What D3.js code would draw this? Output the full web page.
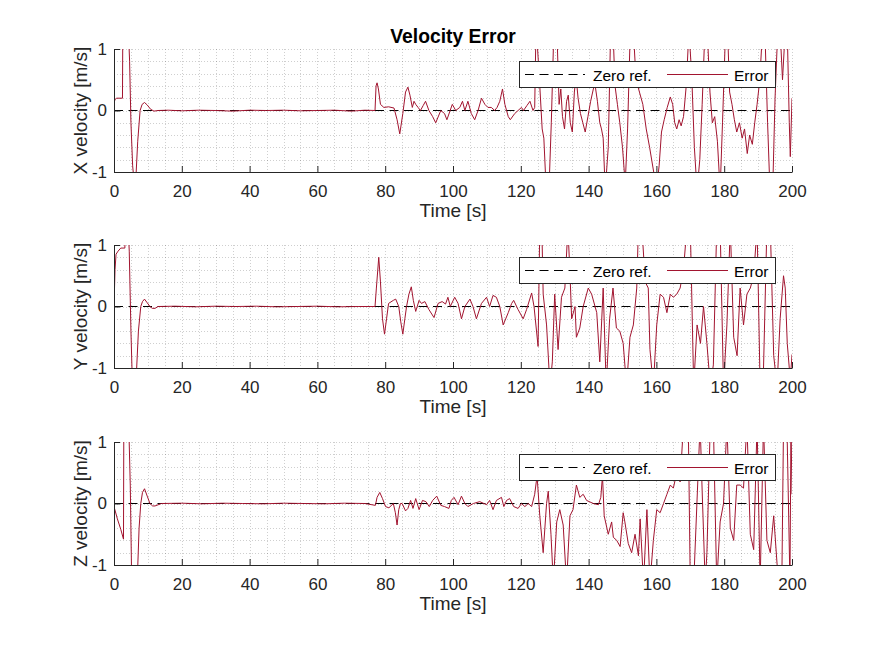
<!DOCTYPE html>
<html>
<head>
<meta charset="utf-8">
<script src="https://cdn.jsdelivr.net/npm/d3@7"></script>
<style>
   body { margin: 0; background: #ffffff; }
   text { font-family: 'Liberation Sans', Arial, Helvetica, sans-serif; fill: #262626; }
   .grid line { stroke: #262626; stroke-opacity: 0.22; stroke-dasharray: 1,2; shape-rendering: crispEdges; }
   .axis path, .axis line { stroke: #262626; }
</style>
</head>
<body>
<script>
   // chart data
   let xTicks = [0, 20, 40, 60, 80, 100, 120, 140, 160, 180, 200];
   let yTicks = [-1, 0, 1];
   let seriesNames = ['Zero ref.', 'Error'];
   let yLabels = ['X velocity [m/s]', 'Y velocity [m/s]', 'Z velocity [m/s]'];

   // X velocity error
   let timeX = [0, 0.3, 0.8, 2.5, 2.6, 3.0, 3.6, 4.2, 4.6, 5.0, 5.5, 6.0, 6.5, 7.0, 7.7, 8.3, 9.0, 9.8, 10.8, 11.8, 13,
      16, 20, 25, 30, 35, 40, 45, 50, 55, 60, 65, 70, 74, 77.0, 77.3, 77.6, 78.0, 78.6, 79.6, 81, 82.6, 83.5, 84.3,
      85.2, 86, 86.7, 87.3, 88, 88.5, 89, 89.7, 90.4, 91.2, 91.9, 92.9, 94, 94.9, 96.4, 97.5, 98.2, 99.8, 100.8,
      102, 102.8, 103.5, 104.4, 105.4, 106.4, 107.4, 108.4, 109.4, 110.3, 111.3, 112.3, 113.0, 113.8, 114.6, 115.3,
      116.3, 116.9, 118.2, 119.2, 120.2, 120.8, 121.8, 122.7, 123.6, 124.1,
      124.5, 125.4, 126.3, 126.8, 127.5, 128.3, 129.0, 129.8, 130.6, 131.3, 131.8, 132.3, 132.9, 133.5, 134, 134.6,
      135.2, 135.8, 136.3, 136.9, 137.6, 138.3, 139, 139.8, 140.6, 141.4, 141.9, 142.6, 143.3, 143.8, 144.3, 144.9,
      145.8, 146.5, 147.2, 147.8, 148.5, 149.2, 150, 150.8, 151.5, 152.3, 153.2, 154, 155, 156, 157, 158, 159.2,
      160, 160.8, 161.5, 162.3, 163.2, 164.1, 164.8, 165.4, 166, 166.7, 167.3, 168, 168.8, 169.6, 170.4, 171.2,
      172, 172.8, 173.5, 174.3, 175, 175.8, 176.5, 177.2, 178, 178.8, 179.5, 180.4, 181, 181.6, 182.3, 183, 183.7,
      184.5, 185.3, 186, 186.8, 187.5, 188.3, 189, 189.7, 190.5, 191.3, 192, 192.8, 193.5, 194.3, 195, 195.8,
      196.5, 197.2, 198, 198.6, 199.2, 199.5, 200];
   let errorX = [0.12, 0.18, 0.2, 0.2, 1.4, 1.5, 1.6, 1.4, 0.8, -0.2, -0.9, -1.2, -1.05, -0.5, 0.0, 0.1, 0.13, 0.09,
      0.02, -0.01, 0.0, 0.005, -0.005, 0.005, 0.0, -0.01, 0.005, 0.0, 0.005, -0.005, 0.0, 0.005, -0.01, 0.005, 0.0,
      0.4, 0.45, 0.35, 0.1, 0.05, 0.06, 0.04, -0.15, -0.38, -0.05, 0.3, 0.38, 0.25, 0.05, 0.15, 0.1, 0.05, 0.0, 0.08,
      0.15, 0.0, -0.1, -0.2, 0.0, -0.05, -0.15, 0.1, 0.0, 0.05, 0.15, 0.0, 0.15, -0.05, -0.15, 0.0, 0.2, 0.1, 0.05,
      0.05, 0.0, 0.05, 0.15, 0.35, 0.1, -0.1, -0.15, -0.05, 0.0, 0.05, 0.0, 0.08, 0.15, 0.0, 0.05,
      1.4, 0.6, -0.3, -0.45, -1.3, -1.3, -0.2, 1.4, 1.4, 0.1, 0.35, -0.1, -0.3, 0.15, 0.25, -0.2,
      -0.35, 0.3, 0.55, 0.2, -0.05, -0.2, -0.35, -0.1, 0.15, 0.35, 0.42, 0.15, -0.2, -0.3, -0.45, -1.3,
      -0.6, 1.3, 1.3, 0.4, 0.1, -0.2, -0.6, -1.2, -0.3, 1.3, 1.3, 0.5, 0.3, 0.1, -0.3, -0.6, -1.0,
      -1.3, -0.9, -0.35, -0.15, 0.05, 0.22, 0.1, -0.2, -0.3, -0.15, -0.25, -0.1, 0.4, 1.3, 0.6, -0.6,
      -1.3, -0.8, 0.1, 1.3, 1.3, 0.3, -0.2, -0.1, -0.5, -1.3, -0.2, 1.3, 1.3, 0.3, 0.1, -0.15, -0.35,
      -0.2, -0.45, -0.3, -0.7, -0.4, -0.55, -0.2, 0.1, 0.5, 1.3, 1.3, -0.2, -1.3, -1.3, 0.2, 1.3,
      1.3, 0.5, 1.3, 1.3, -0.2, -0.75, 0.2];

   // Y velocity error
   let timeY = [0, 0.3, 0.6, 1.2, 2.0, 3.2, 3.4, 4.0, 4.5, 5.0, 5.4, 6.0, 6.6, 7.2, 7.9, 8.4, 9.0, 9.8, 10.6, 11.3,
      12.1, 13, 18, 24, 30, 36, 42, 48, 54, 60, 66, 72, 77.0, 77.4, 78.1, 78.6, 79.2, 79.8, 80.4, 81.0, 82.4, 83.1,
      84.0, 84.6, 85.2, 85.8, 86.3, 87.0, 87.7, 88.3, 89.0, 90.0, 90.7, 91.7, 92.9, 94.4, 95.6, 96.8, 97.8, 98.5,
      99.2, 100.5, 101.5, 102.5, 103.5, 105.0, 105.9, 106.9, 108.4, 109.9, 110.8, 111.8, 112.8, 113.8, 114.8,
      116.3, 117.3, 117.9, 119.2, 120.7, 121.7, 123.2, 123.9, 125.1, 125.6, 126.2, 126.6, 127.6, 128.6, 129.3,
      130, 131, 132, 133, 133.9, 134.6, 135, 136, 136.4, 137.4, 138.4, 139.9, 140.9, 142.4, 143.3, 144.3, 145.2,
      146.2, 147.2, 148.2, 149.2, 150.2, 151.2, 152.2, 153.2, 154.2, 154.7, 155.7, 156.7, 157.6, 158.1, 159.1,
      160.1, 161.1, 162.1, 163.1, 164.1, 165.0, 166.0, 167.0, 168.0, 169.0, 170.0, 171.0, 172.0, 173.0, 173.9,
      174.9, 175.9, 176.8, 177.8, 178.8, 179.8, 180.8, 181.8, 182.8, 183.8, 184.7, 185.7, 186.7, 187.7, 188.7,
      189.7, 190.6, 191.6, 192.6, 193.6, 194.6, 195.6, 196.5, 197.5, 198.0, 198.6, 199.5, 200];
   let errorY = [0.0, 0.6, 0.85, 0.9, 0.95, 0.95, 1.4, 1.5, 0.9, -0.4, -1.2, -1.3, -1.1, -0.4, 0.0, 0.08, 0.12,
      0.06, 0.0, -0.03, -0.03, 0.0, 0.005, -0.005, 0.005, 0.0, 0.005, -0.005, 0.0, 0.005, -0.005, 0.0, 0.0, 0.3,
      0.8, 0.4, -0.2, -0.45, -0.2, 0.05, 0.1, 0.12, 0.0, -0.25, -0.45, -0.2, 0.0, 0.2, 0.32, 0.1, -0.08, 0.1, 0.05,
      0.08, -0.05, -0.18, 0.05, 0.08, 0.04, 0.15, 0.0, 0.15, 0.05, -0.2, 0.0, 0.12, 0.0, -0.2, 0.05, 0.15, 0.0,
      0.18, 0.15, 0.0, -0.3, -0.1, 0.05, 0.1, -0.05, -0.2, -0.05, 0.22, 0.0, -0.65, 1.3, 1.3, 0.2, -0.3, -1.3,
      -0.9, 0.2, -0.7, 0.15, 0.3, 1.3, 0.4, -0.2, 0.0, -0.5, -0.35, 0.0, 0.3, 0.2, -0.1, -0.9, 0.3, -1.3,
      -0.2, 0.3, -0.35, -0.4, -0.6, -1.3, -0.5, -0.3, 0.3, 1.3, 1.3, 0.4, 0.3, -0.7, -1.3,
      -0.3, 0.2, 0.15, -0.1, 0.2, 0.15, 0.2, 0.3, 0.6, 1.3, 1.3, -1.3, -0.3, -0.6, 0.0,
      -0.6, -1.3, -0.95, 1.3, 1.3, -1.3, -0.3, 1.3, -0.5, -0.8, 0.3, -0.3, 0.2, 0.3, 0.5,
      1.3, -1.3, -1.0, 1.3, 1.3, -0.8, -1.3, -0.2, 0.5, 0.3, -0.6, -1.2, -0.78];

   // Z velocity error
   let timeZ = [0, 1.0, 2.0, 2.8, 2.9, 3.5, 4.3, 4.8, 5.2, 6.0, 6.9, 7.4, 7.9, 8.4, 9.0, 9.8, 10.6, 11.4, 12.1, 14,
      20, 26, 32, 38, 44, 50, 56, 62, 68, 74, 77.1, 77.6, 78.4, 79.2, 80.1, 81.1, 82.4, 83.0, 83.5, 84.0, 84.5, 85.0,
      86.0, 86.7, 87.5, 88.2, 89.0, 90.0, 91.0, 92.0, 93.0, 94.0, 95.2, 96.4, 97.5, 98.8, 99.5, 100.3, 101.5, 102.5,
      103.5, 104.4, 106, 107.9, 109.9, 110.8, 111.8, 112.8, 114.3, 115.0, 115.8, 116.7, 117.9, 119.2, 120.2, 121.2,
      122.2, 123.2, 124.1, 124.8, 125.6, 126.6, 127.6, 128.1, 128.9, 129.6, 130.6, 131.5, 132.5, 133.5, 134.5,
      135.4, 136.4, 137.4, 138.4, 139.4, 141.4, 142.9, 143.6, 144.1, 144.6, 145.8, 146.8, 147.3, 148.3, 149.3,
      150.2, 150.7, 151.7, 152.7, 153.7, 154.7, 155.2, 156.2, 157.2, 158.1, 159.1, 160.1, 161.1, 162.1, 163.1,
      164.1, 165.0, 166.0, 167.0, 168.0, 169.4, 170.0, 171.0, 172.9, 173.5, 174.4, 174.9, 175.9, 176.8, 177.8,
      178.8, 179.8, 180.8, 181.8, 182.8, 183.7, 184.7, 185.7, 186.7, 187.7, 188.7, 189.7, 190.6, 191.6, 192.6,
      193.6, 194.6, 196.0, 197.0, 197.5, 198.5, 199.4, 199.7, 200];
   let errorZ = [-0.05, -0.25, -0.42, -0.58, 1.3, 1.5, 1.4, 0.3, -1.2, -1.4, -1.2, -0.4, 0.0, 0.18, 0.24, 0.12, 0.0,
      -0.04, -0.04, 0.0, 0.005, -0.005, 0.005, 0.0, -0.005, 0.005, 0.0, -0.005, 0.005, 0.0, -0.03, 0.1, 0.18, 0.08,
      -0.05, -0.07, 0.0, -0.15, -0.35, -0.1, 0.0, 0.0, -0.12, -0.08, 0.05, -0.08, 0.08, -0.1, 0.05, 0.03, -0.05,
      0.05, 0.12, -0.03, -0.05, -0.08, 0.05, 0.1, -0.02, 0.12, 0.0, -0.05, 0.0, 0.03, -0.02, 0.05, -0.1, 0.05, 0.1,
      -0.05, 0.05, 0.08, -0.05, -0.08, 0.0, -0.05, 0.0, -0.05, 0.15, 0.45, -0.2, -0.8, 0.0, 0.2, -0.5, -1.3, -0.3,
      -0.1, -0.35, -1.3, -0.2, -0.1, 0.3, 0.1, 0.15, 0.05, 0.0, -0.02, 0.1, 0.45, -0.2, -0.5, -0.3, -0.55, -0.6,
      -0.7, -0.15, -0.3, -0.65, -0.8, -0.5, -0.85, -0.25, -1.3, -0.1, -1.3, -0.6, -0.1, -0.15, 0.0, 0.15,
      0.3, 0.25, 0.5, 0.35, 1.3, 1.3, -1.3, -1.3, 1.3, 0.2, -1.3, -0.8, 1.3, 1.3, -1.3,
      -0.3, 0.0, 1.3, -0.4, -0.6, 0.3, 0.3, 0.25, 1.3, -0.5, -0.75, 1.3, -1.3, 1.3, -0.6,
      -0.8, -0.2, -1.3, -1.3, 1.3, 1.3, -1.3, 1.3, 0.15];

   // variables for svg (canvas)
   let width = 875;
   let height = 656;
   let left = 114;
   let right = 792;
   let panelHeight = 123;
   let panelTops = [49, 245, 442];
   let errorColor = '#a2142f';
   let svg = d3.select('body').append('svg')
      .attr('width', width)
      .attr('height', height);

   let xScale = d3.scaleLinear().domain([0, 200]).range([left, right]);

   let drawTitle = () => {
      svg.append('text')
         .text('Velocity Error')
         .attr('x', (left + right) / 2)
         .attr('y', 43)
         .attr('text-anchor', 'middle')
         .style('font-weight', 'bold')
         .style('font-size', '19.3px')
         .style('fill', '#000');
   }

   let drawPanel = (index, times, errors) => {
      let top = panelTops[index];
      let bottom = top + panelHeight;
      let yScale = d3.scaleLinear().domain([-1, 1]).range([bottom, top]);
      let g = svg.append('g');

      // dotted grid, major and minor
      let grid = g.append('g').attr('class', 'grid');
      grid.selectAll('.vgrid')
         .data(d3.range(5, 201, 5))
         .enter()
         .append('line')
         .attr('x1', (d) => Math.round(xScale(d)) + 0.5)
         .attr('x2', (d) => Math.round(xScale(d)) + 0.5)
         .attr('y1', top)
         .attr('y2', bottom);
      grid.selectAll('.hgrid')
         .data(d3.range(-0.8, 1.01, 0.2))
         .enter()
         .append('line')
         .attr('x1', left)
         .attr('x2', right)
         .attr('y1', (d) => Math.round(yScale(d)) + 0.5)
         .attr('y2', (d) => Math.round(yScale(d)) + 0.5);

      // clip lines to the axes box
      svg.append('clipPath')
         .attr('id', 'clip' + index)
         .append('rect')
         .attr('x', left)
         .attr('y', top)
         .attr('width', right - left)
         .attr('height', panelHeight);

      let lines = g.append('g').attr('clip-path', 'url(#clip' + index + ')');
      lines.append('line')
         .attr('x1', left)
         .attr('x2', right)
         .attr('y1', yScale(0))
         .attr('y2', yScale(0))
         .attr('stroke', '#000')
         .attr('stroke-width', 1)
         .attr('stroke-dasharray', '9,5.5');

      let line = d3.line()
         .x((d, i) => xScale(times[i]))
         .y((d) => yScale(d));
      lines.append('path')
         .datum(errors)
         .attr('d', line)
         .attr('fill', 'none')
         .attr('stroke', errorColor)
         .attr('stroke-width', 1)
         .attr('stroke-linejoin', 'round');

      // axes, ticks inward
      let xAxis = d3.axisBottom(xScale).tickValues(xTicks).tickSizeInner(-6).tickSizeOuter(0)
         .tickPadding(12.5).tickFormat((d) => String(d));
      let yAxis = d3.axisLeft(yScale).tickValues(yTicks).tickSizeInner(-6).tickSizeOuter(0)
         .tickPadding(7).tickFormat((d) => String(d));
      let xg = g.append('g')
         .attr('class', 'axis')
         .attr('transform', 'translate(0, ' + bottom + ')')
         .call(xAxis);
      let yg = g.append('g')
         .attr('class', 'axis')
         .attr('transform', 'translate(' + left + ', 0)')
         .call(yAxis);
      xg.selectAll('text').style('font-size', '17px').style('fill', '#262626');
      yg.selectAll('text').style('font-size', '17px').style('fill', '#262626');

      // axes captions
      g.append('text')
         .text('Time [s]')
         .attr('x', (left + right) / 2)
         .attr('y', bottom + 44.5)
         .attr('text-anchor', 'middle')
         .style('font-size', '19px');
      g.append('text')
         .text(yLabels[index])
         .attr('transform', 'rotate(-90)')
         .attr('x', -(top + bottom) / 2)
         .attr('y', 87)
         .attr('text-anchor', 'middle')
         .style('font-size', '19px');

      // legend
      let lg = g.append('g').attr('transform', 'translate(519, ' + (top + 12) + ')');
      lg.append('rect')
         .attr('x', 0.5)
         .attr('y', 0.5)
         .attr('width', 256)
         .attr('height', 26)
         .attr('fill', '#fff')
         .attr('stroke', '#262626')
         .attr('stroke-width', 1);
      lg.append('line')
         .attr('x1', 6).attr('x2', 66).attr('y1', 13.5).attr('y2', 13.5)
         .attr('stroke', '#000').attr('stroke-dasharray', '9,5.5');
      lg.append('text')
         .text(seriesNames[0])
         .attr('x', 74).attr('y', 19.5)
         .style('font-size', '15.5px').style('fill', '#000');
      lg.append('line')
         .attr('x1', 148).attr('x2', 209).attr('y1', 13.5).attr('y2', 13.5)
         .attr('stroke', errorColor);
      lg.append('text')
         .text(seriesNames[1])
         .attr('x', 215).attr('y', 19.5)
         .style('font-size', '15.5px').style('fill', '#000');
   }

   drawTitle();
   drawPanel(0, timeX, errorX);
   drawPanel(1, timeY, errorY);
   drawPanel(2, timeZ, errorZ);
</script>
</body>
</html>
